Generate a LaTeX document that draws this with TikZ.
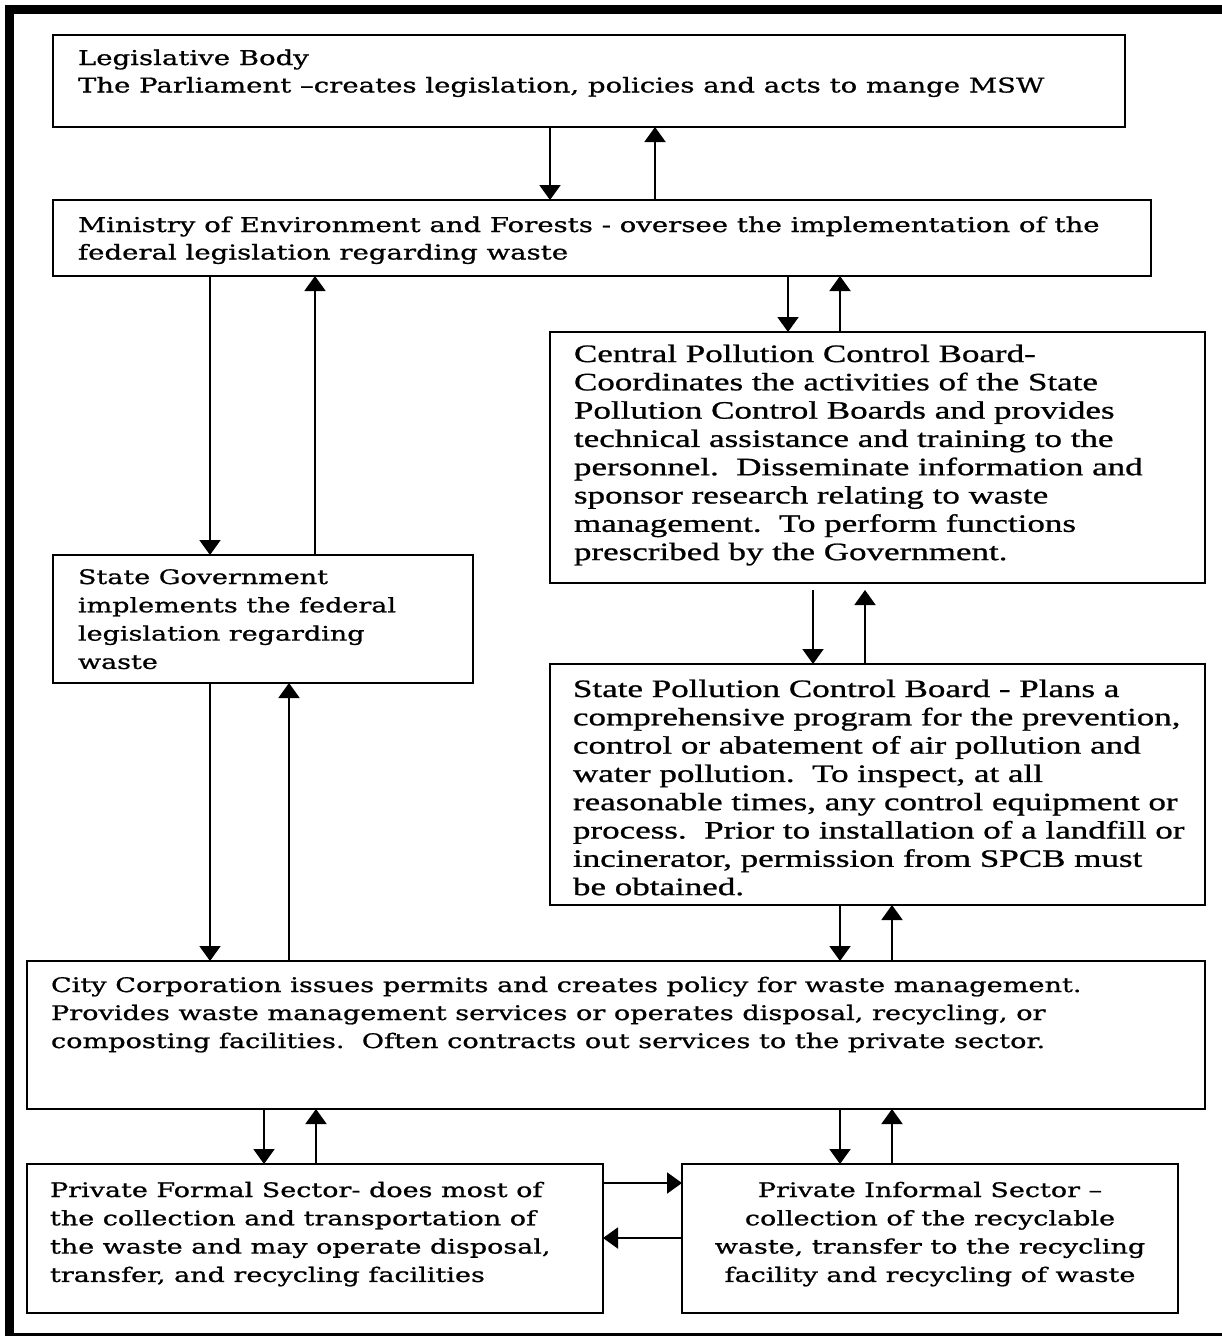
\documentclass[tikz,border=0pt]{standalone}
\usepackage{fontspec}
\setmainfont{DejaVu Serif}
\newfontfamily\wideserif[FakeStretch=1.35,FakeBold=0.9]{DejaVu Serif}
\newfontfamily\boardserif[FakeStretch=1.4,FakeBold=0.9]{Liberation Serif}
\usetikzlibrary{arrows.meta}
\tikzset{
  box/.style={draw, rectangle, line width=2pt, inner sep=0pt, outer sep=0pt, anchor=north west},
  arr/.style={line width=2pt, -{Triangle[length=15pt,width=21pt]}},
  txt/.style={inner sep=0pt, outer sep=0pt, align=left, anchor=north west},
  fa/.style={font=\wideserif\fontsize{20.4pt}{27.5pt}\selectfont},
  fb/.style={font=\wideserif\fontsize{20pt}{28.3pt}\selectfont},
  fc/.style={font=\wideserif\fontsize{20.1pt}{28pt}\selectfont},
  fd/.style={font=\boardserif\fontsize{25pt}{28.3pt}\selectfont},
}
\newcommand{\fst}{\rule{0pt}{20pt}}
\begin{document}
\begin{tikzpicture}[x=1pt,y=-1pt]
\useasboundingbox (0,0) rectangle (1222,1336);
\fill[white] (0,0) rectangle (1222,1336);
\begin{scope}
  \clip (0,0) rectangle (1222,1336);
  \draw[line width=8.5pt] (9.5,9.5) rectangle (1240,1337.5);
\end{scope}

% boxes
\node[box, minimum width=1072pt, minimum height=92pt]  (leg)  at (53,35) {};
\node[box, minimum width=1098pt, minimum height=76pt]  (min)  at (53,200) {};
\node[box, minimum width=655pt,  minimum height=251pt] (cpcb) at (550,332) {};
\node[box, minimum width=420pt,  minimum height=128pt] (sg)   at (53,555) {};
\node[box, minimum width=655pt,  minimum height=241pt] (spcb) at (550,664) {};
\node[box, minimum width=1178pt, minimum height=148pt] (city) at (27,961) {};
\node[box, minimum width=576pt,  minimum height=149pt] (pfs)  at (27,1164) {};
\node[box, minimum width=496pt,  minimum height=149pt] (pis)  at (682,1164) {};

% texts (north = first baseline - 20)
\node[txt, fa] (legT) at (78,45) {\fst Legislative Body\\The Parliament –creates legislation, policies and acts to mange MSW};
\node[txt, fa] (minT) at (78,212) {\fst Ministry of Environment and Forests - oversee the implementation of the\\federal legislation regarding waste};
\node[txt, fd] (cpcbT) at (574,342) {\fst Central Pollution Control Board-\\Coordinates the activities of the State\\Pollution Control Boards and provides\\technical assistance and training to the\\personnel.\ \ Disseminate information and\\sponsor research relating to waste\\management.\ \ To perform functions\\prescribed by the Government.};
\node[txt, fb] (sgT) at (78,564) {\fst State Government\\implements the federal\\legislation regarding\\waste};
\node[txt, fd] (spcbT) at (573,677) {\fst State Pollution Control Board - Plans a\\comprehensive program for the prevention,\\control or abatement of air pollution and\\water pollution.\ \ To inspect, at all\\reasonable times, any control equipment or\\process.\ \ Prior to installation of a landfill or\\incinerator, permission from SPCB must\\be obtained.};
\node[txt, fc] (cityT) at (51,972) {\fst City Corporation issues permits and creates policy for waste management.\\Provides waste management services or operates disposal, recycling, or\\composting facilities.\ \ Often contracts out services to the private sector.};
\node[txt, fb] (pfsT) at (50,1177) {\fst Private Formal Sector- does most of\\the collection and transportation of\\the waste and may operate disposal,\\transfer, and recycling facilities};
\node[txt, fb, align=center, anchor=north] (pisT) at (930,1177) {\fst Private Informal Sector –\\collection of the recyclable\\waste, transfer to the recycling\\facility and recycling of waste};

% guide coordinates
\coordinate (xA) at (550,0);
\coordinate (xB) at (655,0);
\coordinate (xC) at (788,0);
\coordinate (xD) at (840,0);
\coordinate (xE) at (210,0);
\coordinate (xF) at (315,0);
\coordinate (xG) at (813,0);
\coordinate (xH) at (865,0);
\coordinate (xI) at (289,0);
\coordinate (xK) at (892,0);
\coordinate (xL) at (264,0);
\coordinate (xM) at (316,0);
\coordinate (yP) at (0,1183);
\coordinate (yQ) at (0,1238);

% connectors
\draw[arr] (leg.south -| xA) -- (min.north -| xA);
\draw[arr] (min.north -| xB) -- (leg.south -| xB);
\draw[arr] (min.south -| xC) -- (cpcb.north -| xC);
\draw[arr] (cpcb.north -| xD) -- (min.south -| xD);
\draw[arr] (min.south -| xE) -- (sg.north -| xE);
\draw[arr] (sg.north -| xF) -- (min.south -| xF);
\draw[arr, shorten <=7pt] (cpcb.south -| xG) -- (spcb.north -| xG);
\draw[arr, shorten >=7pt] (spcb.north -| xH) -- (cpcb.south -| xH);
\draw[arr] (sg.south -| xE) -- (city.north -| xE);
\draw[arr] (city.north -| xI) -- (sg.south -| xI);
\draw[arr] (spcb.south -| xD) -- (city.north -| xD);
\draw[arr] (city.north -| xK) -- (spcb.south -| xK);
\draw[arr] (city.south -| xL) -- (pfs.north -| xL);
\draw[arr] (pfs.north -| xM) -- (city.south -| xM);
\draw[arr] (city.south -| xD) -- (pis.north -| xD);
\draw[arr] (pis.north -| xK) -- (city.south -| xK);
\draw[arr] (pfs.east |- yP) -- (pis.west |- yP);
\draw[arr] (pis.west |- yQ) -- (pfs.east |- yQ);
\end{tikzpicture}
\end{document}
